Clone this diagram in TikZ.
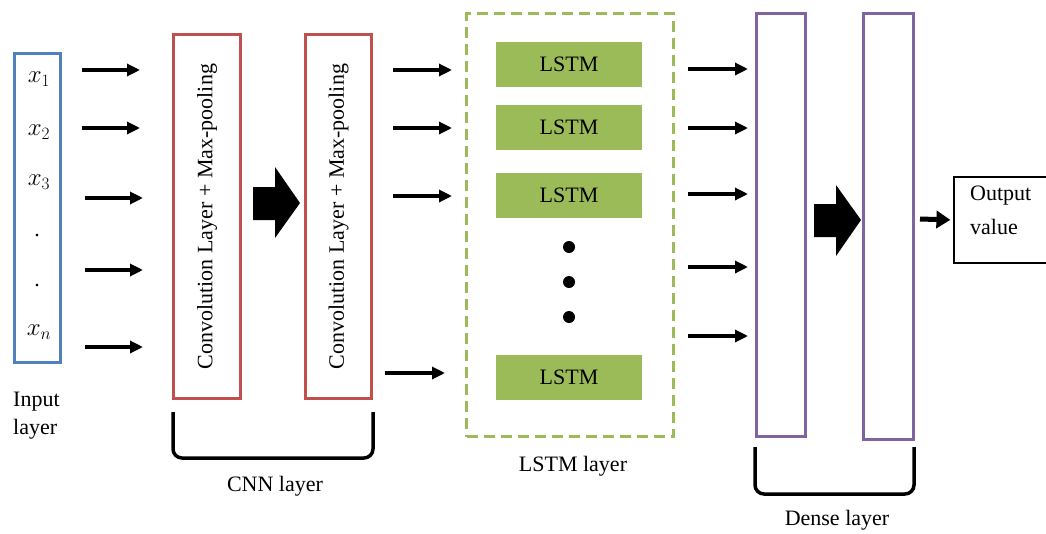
\documentclass[tikz,border=0pt]{standalone}
\usepackage{fontspec}
\setmainfont{Liberation Serif}
\newfontfamily\tnr{Liberation Serif}
\usetikzlibrary{arrows.meta}
\definecolor{myblue}{HTML}{4F81BD}
\definecolor{myred}{HTML}{C0504D}
\definecolor{mygreen}{HTML}{9BBB59}
\definecolor{mypurple}{HTML}{8064A2}
\begin{document}
\begin{tikzpicture}[x=1pt,y=-1pt,
  font=\tnr\fontsize{22}{28}\selectfont,
  box/.style={draw, line width=3pt, inner sep=0pt},
  arr/.style={line width=3.2pt, -{Triangle[length=13pt,width=12pt]}},
  bracket/.style={line width=3.5pt, rounded corners=9pt},
  lstmcell/.style={fill=mygreen, inner sep=0pt, minimum width=146pt, minimum height=45pt},
  lbl/.style={inner sep=0pt, align=center},
  mathlbl/.style={inner sep=0pt, font=\fontsize{25}{28}\selectfont},
  dotc/.style={circle, fill=black, inner sep=0pt, minimum size=12pt}
]
\useasboundingbox (0,0) rectangle (1046,533);

% input layer
\node[box, draw=myblue, minimum width=46pt, minimum height=309pt] (in) at (37.5,208) {};
\node[mathlbl] (x1) at (39,79) {$x_1$};
\node[mathlbl] (x2) at (39,132) {$x_2$};
\node[mathlbl] (x3) at (39,182) {$x_3$};
\node[lbl] (d1) at (37,236) {.};
\node[lbl] (d2) at (37,286) {.};
\node[mathlbl] (xn) at (39,332) {$x_n$};
\node[lbl, align=left, anchor=west] (inlbl) at (13,416) {Input\\layer};

% arrows input -> CNN
\foreach \y/\xa/\xb [count=\i] in {70/82/140,128/82/140,198/85/143,270/85/143,347/85/143}{
  \coordinate (ia\i) at (\xa,\y);
  \coordinate (ib\i) at (\xb,\y);
  \draw[arr] (ia\i) -- (ib\i);
}

% CNN boxes
\node[box, draw=myred, rotate=90, minimum width=364pt, minimum height=67pt] (c1) at (207,216.5) {Convolution Layer + Max-pooling};
\node[box, draw=myred, rotate=90, minimum width=364pt, minimum height=66pt] (c2) at (338.5,216.5) {Convolution Layer + Max-pooling};
\fill (253,187) -- (275,187) -- (275,167) -- (300,203) -- (275,238) -- (275,220) -- (253,220) -- cycle;
\draw[bracket] (173,412) -- (173,458) -- (373,458) -- (373,412);
\node[lbl] (cnnlbl) at (275,486) {CNN layer};

% arrows CNN -> LSTM
\foreach \y/\xa/\xb [count=\i] in {70/393/452,128/393/452,196/393/452,373/385/445}{
  \coordinate (la\i) at (\xa,\y);
  \coordinate (lb\i) at (\xb,\y);
  \draw[arr] (la\i) -- (lb\i);
}

% LSTM layer
\node[box, draw=mygreen, dashed, dash pattern=on 11pt off 6pt, minimum width=207pt, minimum height=423pt] (lstm) at (570,225) {};
\node[lstmcell] (l1) at (569,64.5) {LSTM};
\node[lstmcell] (l2) at (569,127) {LSTM};
\node[lstmcell] (l3) at (569,195.5) {LSTM};
\node[lstmcell] (l4) at (569,377) {LSTM};
\node[dotc] (p1) at (569,247) {};
\node[dotc] (p2) at (569,282) {};
\node[dotc] (p3) at (569,317) {};
\node[lbl] (lstmlbl) at (573,466) {LSTM layer};

% arrows LSTM -> dense
\foreach \y [count=\i] in {69,128,194,267,336}{
  \coordinate (da\i) at (688,\y);
  \coordinate (db\i) at (748,\y);
  \draw[arr] (da\i) -- (db\i);
}

% dense layer
\node[box, draw=mypurple, minimum width=49pt, minimum height=423pt] (dn1) at (781,225) {};
\node[box, draw=mypurple, minimum width=50pt, minimum height=426pt] (dn2) at (888.5,226.5) {};
\fill (814,204) -- (836,204) -- (836,185) -- (861,220) -- (836,256) -- (836,237) -- (814,237) -- cycle;
\draw[bracket] (755,447) -- (755,494) -- (914,494) -- (914,447);
\node[lbl] (denselbl) at (837,520) {Dense layer};

% output
\node[draw, line width=1.2pt, inner sep=0pt, minimum width=96pt, minimum height=86pt] (out) at (1002,220) {};
\node[lbl, align=left, anchor=west] (outtxt) at (970,210) {Output\\[6pt]value};
\coordinate (oa) at (920,219);
\draw[line width=5pt, -{Triangle[length=14pt,width=17pt]}, shorten >=3pt] (oa) -- (out.west);
\end{tikzpicture}
\end{document}
